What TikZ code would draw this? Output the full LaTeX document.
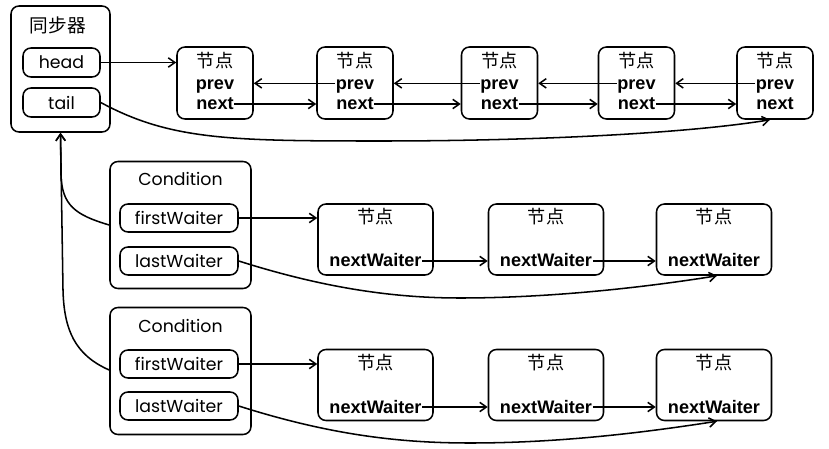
\documentclass[tikz,border=0pt]{standalone}
\usepackage{fontspec}
\setmainfont{Liberation Sans}
\newfontfamily\cjk{Noto Sans CJK SC}
\newfontfamily\geo{Poppins}
\usetikzlibrary{arrows.meta}
\def\u{0.75pt}
\begin{document}
\begin{tikzpicture}[x=0.75pt,y=-0.75pt,line width=1.15pt,
  box/.style={draw,rounded corners=6pt,inner sep=0pt},
  txt/.style={inner sep=0pt,anchor=base,font=\bfseries\fontsize{13.6}{15}\selectfont},
  cn/.style={inner sep=0pt,anchor=base,font=\cjk\fontsize{13.6}{15}\selectfont},
  lab/.style={inner sep=0pt,font=\geo\fontsize{13}{15}\selectfont},
  arr/.style={-{Straight Barb[length=5pt,width=7pt]}}]
\useasboundingbox (0,0) rectangle (829,449);
% synchronizer
\node[box,minimum width=99*\u,minimum height=126*\u] (sync) at (60.5,69) {};
\node[cn,font=\cjk\fontsize{14}{15}\selectfont] (synct) at (58,33) {同步器};
\node[box,minimum width=77*\u,minimum height=29*\u,lab] (head) at (61.5,62.5) {head};
\node[box,minimum width=77*\u,minimum height=29*\u,lab] (tail) at (61.5,102.5) {tail};
% top nodes
\foreach \i/\x in {1/215,2/355,3/499.5,4/636.5,5/775}{
  \node[box,minimum width=76*\u,minimum height=72*\u] (n\i) at (\x,83) {};
  \node[cn] (n\i t) at (\x,68) {节点};
  \node[txt] (n\i p) at (\x,90) {prev};
  \node[txt] (n\i n) at (\x,110) {next};
}
\draw[arr] (head.east) -- (n1.west |- head.east);
\foreach \a/\b in {1/2,2/3,3/4,4/5}{
  \draw[arr] ([yshift=5pt]n\b p.base west) -- ([yshift=5pt]n\b p.base west -| n\a.east);
  \draw[arr] ([yshift=4.5pt]n\a n.base east) -- ([yshift=4.5pt]n\a n.base east -| n\b.west);
}
\draw[arr] (tail.east) .. controls (170,140) and (230,141) .. (380,141)
  .. controls (540,141) and (690,133) .. ([xshift=-5*\u]n5.south);
% conditions
\foreach \k/\cy/\ty/\fy/\ly/\wy/\wt/\wn in {1/225/186/218/261/239.5/224/267,2/371/332/364/406/385/369/413}{
  \node[box,minimum width=141*\u,minimum height=127*\u] (c\k) at (180.5,\cy) {};
  \node[lab,anchor=base] (c\k t) at (180.5,\ty) {Condition};
  \node[box,minimum width=118*\u,minimum height=28*\u,lab] (f\k) at (179,\fy) {firstWaiter};
  \node[box,minimum width=118*\u,minimum height=28*\u,lab] (l\k) at (179,\ly) {lastWaiter};
  \foreach \j/\x in {1/375.5,2/546,3/714}{
    \node[box,minimum width=115*\u,minimum height=71*\u] (w\k\j) at (\x,\wy) {};
    \node[cn] (w\k\j t) at (\x,\wt) {节点};
    \node[txt] (w\k\j n) at (\x,\wn) {nextWaiter};
  }
  \draw[arr] (f\k.east) -- (f\k.east -| w\k1.west);
  \draw[arr] ([yshift=4.5pt]w\k1n.base east) -- ([yshift=4.5pt]w\k1n.base east -| w\k2.west);
  \draw[arr] ([yshift=4.5pt]w\k2n.base east) -- ([yshift=4.5pt]w\k2n.base east -| w\k3.west);
}
\draw[arr] (l1.east) .. controls (330,290) and (400,298) .. (460,298)
  .. controls (560,298) and (660,285) .. ([xshift=3*\u]w13.south);
\draw[arr] (l2.east) .. controls (330,435) and (400,443) .. (470,443)
  .. controls (570,443) and (660,430) .. ([xshift=3*\u]w23.south);
% back links to synchronizer
\draw[arr] (c1.west |- 0,225) .. controls (75,215) and (62,205) .. (61,175) -- (sync.south);
\draw[arr] (c2.west |- 0,370) .. controls (75,355) and (64,330) .. (63,290) -- (sync.south);
\end{tikzpicture}
\end{document}
